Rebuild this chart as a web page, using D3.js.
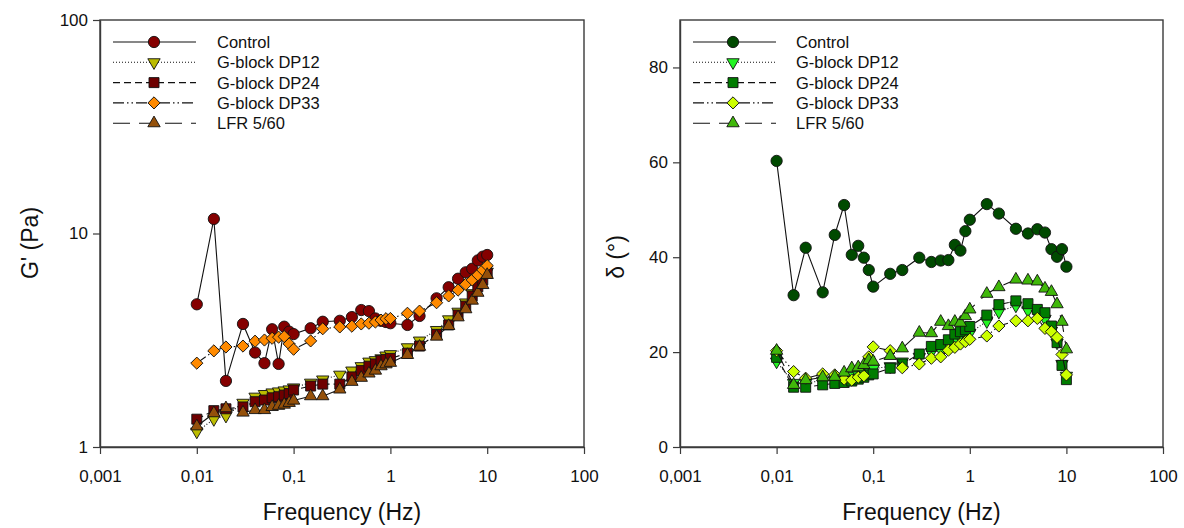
<!DOCTYPE html>
<html>
<head>
<meta charset="utf-8">
<script src="https://cdn.jsdelivr.net/npm/d3@7"></script>
<style>
  body { margin: 0; background: #ffffff; }
  svg { display: block; font-family: "Liberation Sans", Arial, sans-serif; }
</style>
</head>
<body>
<svg id="chart" width="1184" height="528"></svg>
<script>
// Oscillatory frequency sweep (Hz), shared by every series
const freqs = [0.01, 0.015, 0.02, 0.03, 0.04, 0.05, 0.06, 0.07, 0.08, 0.09,
               0.1, 0.15, 0.2, 0.3, 0.4, 0.5, 0.6, 0.7, 0.8, 0.9,
               1, 1.5, 2, 3, 4, 5, 6, 7, 8, 9, 10];

const seriesNames = ["Control", "G-block DP12", "G-block DP24", "G-block DP33", "LFR 5/60"];

// Storage modulus G' (Pa)
const controlG = [4.66, 11.7, 2.04, 3.77, 2.77, 2.47, 3.56, 2.45, 3.66, 3.47,
                  3.38, 3.6, 3.86, 3.9, 4.06, 4.38, 4.33, 4.0, 3.9, 3.85,
                  3.8, 3.73, 4.11, 4.97, 5.6, 6.14, 6.58, 6.84, 7.48, 7.79, 7.93];
const dp12G = [1.18, 1.35, 1.40, 1.61, 1.72, 1.77, 1.80, 1.82, 1.84, 1.86,
               1.90, 2.0, 2.07, 2.18, 2.28, 2.39, 2.51, 2.55, 2.6, 2.68,
               2.72, 2.93, 3.15, 3.53, 3.96, 4.3, 4.75, 5.25, 5.8, 6.3, 6.62];
const dp24G = [1.35, 1.48, 1.51, 1.54, 1.63, 1.66, 1.70, 1.72, 1.75, 1.78,
               1.85, 1.93, 1.97, 1.97, 2.13, 2.28, 2.39, 2.45, 2.54, 2.57,
               2.60, 2.75, 2.97, 3.37, 3.73, 4.15, 4.57, 5.1, 5.63, 6.06, 6.51];
const dp33G = [2.47, 2.82, 2.94, 2.97, 3.13, 3.17, 3.23, 3.27, 3.29, 3.04,
               2.87, 3.14, 3.58, 3.65, 3.68, 3.77, 3.8, 3.85, 3.93, 3.99,
               4.0, 4.23, 4.33, 4.74, 5.1, 5.43, 5.78, 6.06, 6.4, 6.75, 7.07];
const lfrG = [1.25, 1.44, 1.52, 1.45, 1.49, 1.49, 1.54, 1.56, 1.58, 1.61,
              1.65, 1.73, 1.73, 1.86, 2.02, 2.11, 2.21, 2.28, 2.39, 2.44,
              2.48, 2.70, 2.95, 3.29, 3.69, 4.05, 4.42, 4.85, 5.28, 5.74, 6.4];

// Phase angle delta (degrees)
const controlD = [60.3, 32.0, 42.0, 32.6, 44.7, 51.0, 40.5, 42.4, 39.9, 37.3,
                  33.8, 36.5, 37.3, 39.9, 39.0, 39.3, 39.4, 42.6, 41.4, 45.5,
                  47.9, 51.2, 49.2, 46.0, 45.0, 45.9, 45.2, 41.7, 40.1, 41.7, 38.0];
const dp12D = [18.0, 13.5, 13.5, 14.0, 14.2, 14.5, 15.0, 15.3, 15.8, 16.2,
               16.5, 17.0, 18.0, 19.0, 20.0, 20.5, 21.5, 22.5, 23.0, 23.5,
               24.0, 26.5, 28.5, 29.8, 28.8, 28.0, 27.0, 24.5, 22.0, 17.5, 15.0];
const dp24D = [18.9, 12.6, 12.6, 13.1, 13.4, 13.6, 13.9, 14.3, 14.7, 15.2,
               15.4, 16.6, 17.5, 19.6, 21.2, 21.6, 22.6, 23.8, 24.3, 24.7,
               25.4, 27.8, 30.0, 30.8, 30.2, 29.0, 28.3, 25.5, 22.0, 17.2, 14.2];
const dp33D = [20.3, 15.9, 14.5, 15.4, 15.2, 14.3, 14.1, 14.7, 15.0, 19.0,
               21.1, 20.3, 16.7, 17.5, 18.7, 19.0, 20.4, 21.0, 21.7, 22.2,
               22.7, 23.4, 25.5, 26.6, 26.6, 27.1, 25.0, 24.3, 23.1, 19.5, 15.2];
const lfrD = [20.3, 13.1, 14.1, 14.7, 14.8, 15.7, 16.6, 16.8, 17.3, 18.3,
              18.0, 19.2, 20.8, 24.1, 24.0, 26.4, 25.5, 26.4, 26.2, 27.6,
              29.0, 32.3, 33.7, 35.3, 35.1, 34.9, 33.4, 32.7, 30.1, 26.4, 20.6];

// Axis ticks
const xTickValues = [0.001, 0.01, 0.1, 1, 10, 100];
const xTickLabels = ["0,001", "0,01", "0,1", "1", "10", "100"];
const gTickValues = [1, 10, 100];
const gTickLabels = ["1", "10", "100"];
const dTickValues = [0, 20, 40, 60, 80];
const dTickLabels = ["0", "20", "40", "60", "80"];

// Marker shapes and line dashes, one per series (legend order)
const shapes = ["circle", "triangleDown", "square", "diamond", "triangleUp"];
const dashes = [null, "1,2", "7,4", "11,3,1.5,3,1.5,3", "17,9"];
const leftColors = ["#850000", "#BCBC00", "#6E0000", "#FF8A00", "#94500A"];
const rightColors = ["#004A00", "#22F522", "#007C00", "#CCFF00", "#40B80A"];

const svg = d3.select("#chart");

function symbolPath(shape) {
  switch (shape) {
    case "circle": return d3.symbol(d3.symbolCircle, 100)();
    case "square": return d3.symbol(d3.symbolSquare, 100)();
    case "diamond": return d3.symbol(d3.symbolSquare, 74)();
    default: return d3.symbol(d3.symbolTriangle, 66)();
  }
}
function symbolRotate(shape) {
  if (shape === "diamond") return 45;
  if (shape === "triangleDown") return 180;
  return 0;
}

function drawPanel(opts) {
  const { x, y, data, colors, yTicks, yLabels, yTitle, yTitlePos, legend } = opts;
  const g = svg.append("g");
  const [x0, x1] = x.range();
  const [yb, yt] = y.range();

  // Series: connecting line, then markers
  data.forEach((vals, si) => {
    const pts = freqs.map((f, i) => [f, vals[i]]);
    const line = d3.line().x(d => x(d[0])).y(d => y(d[1]));
    g.append("path")
      .attr("d", line(pts))
      .attr("fill", "none")
      .attr("stroke", "#111")
      .attr("stroke-width", 1.1)
      .attr("stroke-dasharray", dashes[si]);
    const path = symbolPath(shapes[si]);
    const rot = symbolRotate(shapes[si]);
    g.append("g").selectAll("path").data(pts).join("path")
      .attr("d", path)
      .attr("transform", d => `translate(${x(d[0])},${y(d[1])}) rotate(${rot})`)
      .attr("fill", colors[si])
      .attr("stroke", "#111")
      .attr("stroke-width", 0.9);
  });

  // Frame
  g.append("rect")
    .attr("x", x0).attr("y", yt)
    .attr("width", x1 - x0).attr("height", yb - yt)
    .attr("fill", "none").attr("stroke", "#3a3a3a").attr("stroke-width", 1.4);

  // Axes
  const xAxis = d3.axisBottom(x).tickValues(xTickValues)
    .tickFormat((d, i) => xTickLabels[i]).tickSize(7).tickSizeOuter(0).tickPadding(16);
  const gx = g.append("g").attr("transform", `translate(0,${yb})`).call(xAxis);
  const yAxis = d3.axisLeft(y).tickValues(yTicks)
    .tickFormat((d, i) => yLabels[i]).tickSize(7).tickSizeOuter(0).tickPadding(5);
  const gy = g.append("g").attr("transform", `translate(${x0},0)`).call(yAxis);
  [gx, gy].forEach(a => {
    a.select(".domain").attr("stroke", "#3a3a3a").attr("stroke-width", 1.4);
    a.selectAll(".tick line").attr("stroke", "#3a3a3a").attr("stroke-width", 1.2);
    a.selectAll(".tick text").attr("fill", "#111")
      .style("font-family", '"Liberation Sans", Arial, sans-serif').style("font-size", "17px");
  });

  // Axis titles
  g.append("text")
    .attr("x", (x0 + x1) / 2).attr("y", 520)
    .attr("text-anchor", "middle")
    .style("font-size", "23px").attr("fill", "#111")
    .text("Frequency (Hz)");
  g.append("text")
    .attr("transform", `translate(${yTitlePos[0]},${yTitlePos[1]}) rotate(-90)`)
    .attr("text-anchor", "middle")
    .style("font-size", "23px").attr("fill", "#111")
    .text(yTitle);

  // Legend
  const lg = g.append("g");
  seriesNames.forEach((name, si) => {
    const ry = legend.top + si * legend.step;
    lg.append("line")
      .attr("x1", legend.lineX0).attr("x2", legend.lineX1)
      .attr("y1", ry).attr("y2", ry)
      .attr("stroke", "#111").attr("stroke-width", 1.1)
      .attr("stroke-dasharray", dashes[si]);
    lg.append("path")
      .attr("d", symbolPath(shapes[si]))
      .attr("transform", `translate(${legend.markX},${ry}) rotate(${symbolRotate(shapes[si])})`)
      .attr("fill", colors[si]).attr("stroke", "#111").attr("stroke-width", 0.9);
    lg.append("text")
      .attr("x", legend.textX).attr("y", ry).attr("dy", "0.36em")
      .style("font-size", "16.5px").attr("fill", "#111")
      .text(name);
  });
}

// Left panel: G' on a log scale
const xLeft = d3.scaleLog().domain([0.001, 100]).range([100, 584]);
const yLeft = d3.scaleLog().domain([1, 100]).range([447, 20]);
drawPanel({
  x: xLeft, y: yLeft,
  data: [controlG, dp12G, dp24G, dp33G, lfrG],
  colors: leftColors,
  yTicks: gTickValues, yLabels: gTickLabels,
  yTitle: "G' (Pa)", yTitlePos: [38, 243],
  legend: { top: 42, step: 20.3, lineX0: 113, lineX1: 196, markX: 154, textX: 217 }
});

// Right panel: phase angle on a linear scale
const xRight = d3.scaleLog().domain([0.001, 100]).range([680, 1163]);
const yRight = d3.scaleLinear().domain([0, 90]).range([447, 20]);
drawPanel({
  x: xRight, y: yRight,
  data: [controlD, dp12D, dp24D, dp33D, lfrD],
  colors: rightColors,
  yTicks: dTickValues, yLabels: dTickLabels,
  yTitle: "δ (°)", yTitlePos: [624, 257],
  legend: { top: 42, step: 20.3, lineX0: 693, lineX1: 776, markX: 733, textX: 796 }
});
</script>
</body>
</html>
